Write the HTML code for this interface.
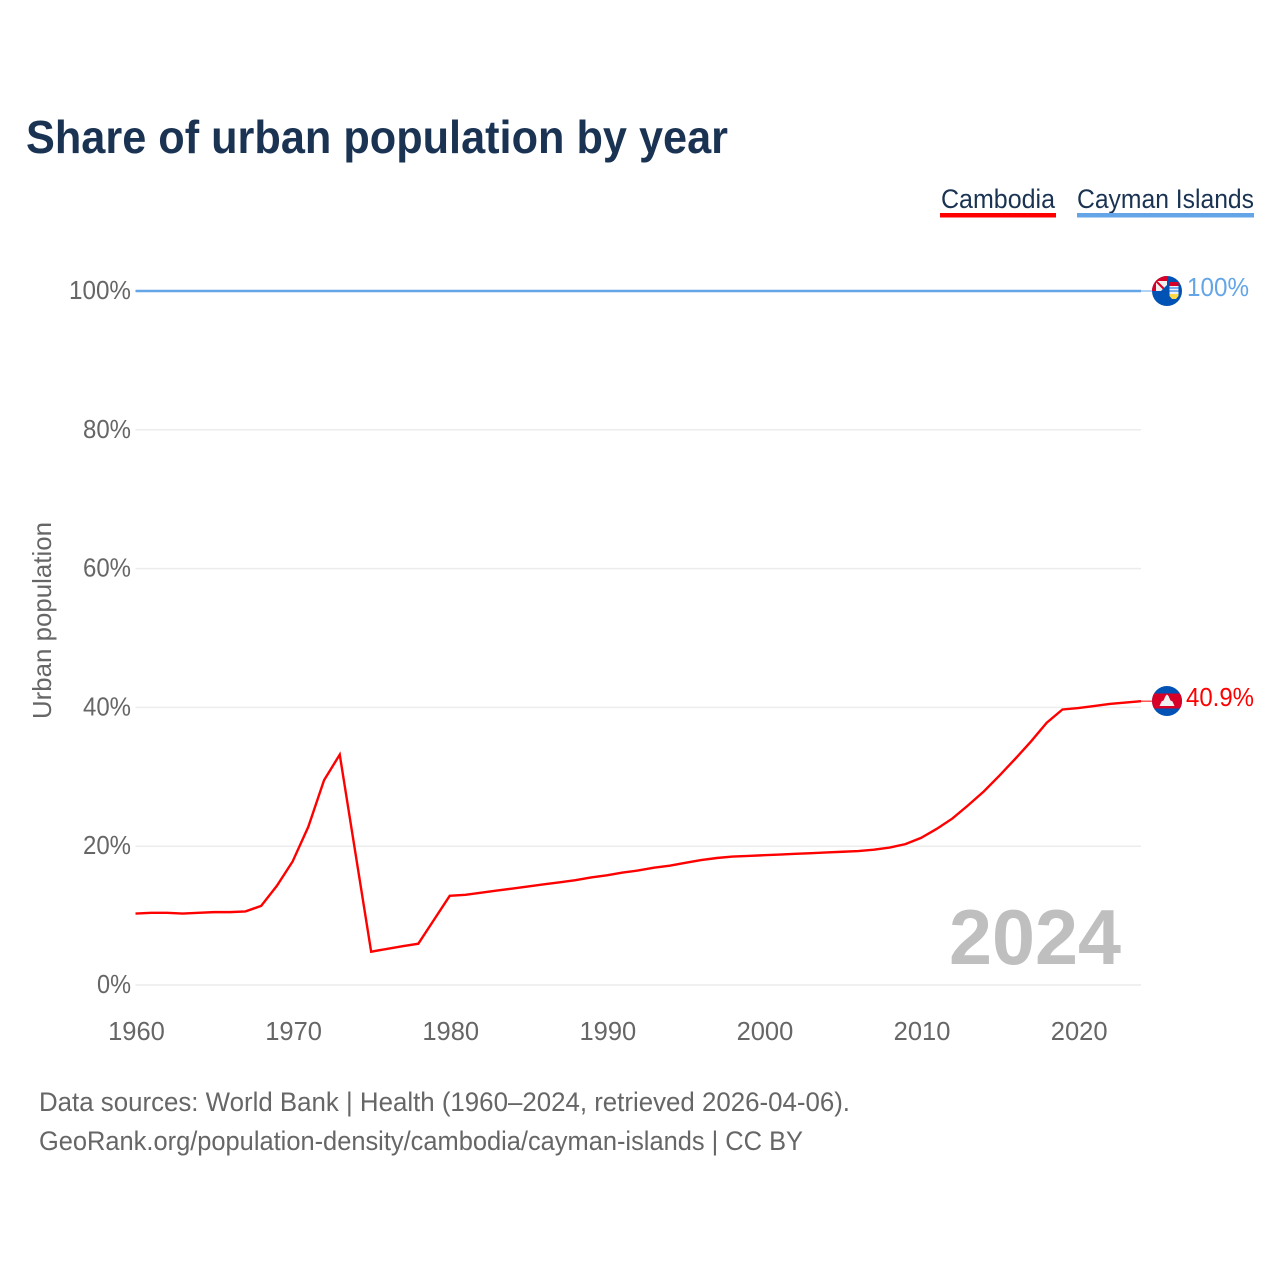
<!DOCTYPE html>
<html lang="en">
<head>
<meta charset="utf-8">
<title>Share of urban population by year</title>
<style>
html,body{margin:0;padding:0;background:#fff;width:1280px;height:1280px;overflow:hidden}
svg{display:block}
text{font-family:"Liberation Sans",sans-serif}
</style>
</head>
<body>
<svg id="chart" xmlns="http://www.w3.org/2000/svg" width="1280" height="1280" viewBox="0 0 1280 1280">
  <defs>
    <clipPath id="flag-clip-ky"><circle cx="1167" cy="291" r="15"/></clipPath>
    <clipPath id="flag-clip-kh"><circle cx="1167" cy="701" r="15"/></clipPath>
  </defs>
  <rect x="0" y="0" width="1280" height="1280" fill="#fff"/>
  <text x="26" y="153" font-size="46" font-weight="700" fill="#1a3353" textLength="702" lengthAdjust="spacingAndGlyphs">Share of urban population by year</text>

  <g>
    <g>
      <text x="941" y="208" font-size="27" fill="#1a3353" textLength="114" lengthAdjust="spacingAndGlyphs">Cambodia</text>
      <rect x="940" y="213" width="116" height="4.5" fill="#ff0000"/>
    </g>
    <g>
      <text x="1077" y="208" font-size="27" fill="#1a3353" textLength="177" lengthAdjust="spacingAndGlyphs">Cayman Islands</text>
      <rect x="1077" y="213" width="177" height="4.5" fill="#64a5e8"/>
    </g>
  </g>

  <g id="grid"></g>
  <g id="yticks"></g>
  <g id="xticks"></g>
  <text transform="translate(51 620.5) rotate(-90)" text-anchor="middle" font-size="26" fill="#666" textLength="197" lengthAdjust="spacingAndGlyphs">Urban population</text>

  <text id="year-label" x="949" y="964" font-size="78" font-weight="700" fill="#bfbfbf" textLength="172" lengthAdjust="spacingAndGlyphs">2024</text>

  <g id="series"></g>

  <g clip-path="url(#flag-clip-ky)">
    <rect x="1152" y="276" width="30" height="30" fill="#0052b4"/>
    <rect x="1152" y="276" width="15" height="15" fill="#d80027"/>
    <rect x="1156" y="281" width="11" height="10" fill="#f0f0f0"/>
    <path d="M1156 281 L1166 291" stroke="#d80027" stroke-width="2"/>
    <path d="M1161 291 L1167 291 L1167 285 Z" fill="#0052b4"/>
    <rect x="1169.5" y="282" width="9" height="4" fill="#d80027"/>
    <rect x="1169.5" y="286" width="9" height="8" fill="#f0f0f0"/>
    <path d="M1169.5 288 H1178.5 M1169.5 291 H1178.5" stroke="#338af3" stroke-width="1.2"/>
    <path d="M1169.5 294 H1178.5 V296 L1176 299 H1172 L1169.5 296 Z" fill="#ffda44"/>
  </g>
  <g clip-path="url(#flag-clip-kh)">
    <rect x="1152" y="686" width="30" height="30" fill="#0052b4"/>
    <rect x="1152" y="693.5" width="30" height="15" fill="#d80027"/>
    <path d="M1159.5 706 L1161.5 701.5 L1163.5 700.5 L1165.5 696 L1167 694.5 L1168.5 696 L1170.5 700.5 L1172.5 701.5 L1174.5 706 Z" fill="#f0f0f0"/>
  </g>
  <text id="label-ky" x="1187" y="296" font-size="26" fill="#64a5e8" textLength="62" lengthAdjust="spacingAndGlyphs">100%</text>
  <text id="label-kh" x="1186" y="706" font-size="26" fill="#ff0000" textLength="68" lengthAdjust="spacingAndGlyphs">40.9%</text>

  <text x="39" y="1111" font-size="27" fill="#666" textLength="811" lengthAdjust="spacingAndGlyphs">Data sources: World Bank | Health (1960–2024, retrieved 2026-04-06).</text>
  <text x="39" y="1150" font-size="27" fill="#666" textLength="764" lengthAdjust="spacingAndGlyphs">GeoRank.org/population-density/cambodia/cayman-islands | CC BY</text>
</svg>
<script>
const years = [1960,1961,1962,1963,1964,1965,1966,1967,1968,1969,1970,1971,1972,1973,1974,1975,1976,1977,1978,1979,1980,1981,1982,1983,1984,1985,1986,1987,1988,1989,1990,1991,1992,1993,1994,1995,1996,1997,1998,1999,2000,2001,2002,2003,2004,2005,2006,2007,2008,2009,2010,2011,2012,2013,2014,2015,2016,2017,2018,2019,2020,2021,2022,2023,2024];
const cambodia = [10.3,10.4,10.4,10.3,10.4,10.5,10.5,10.6,11.4,14.3,17.8,22.8,29.5,33.2,19.0,4.8,5.2,5.6,5.95,9.4,12.85,13.0,13.3,13.6,13.9,14.2,14.5,14.8,15.1,15.5,15.8,16.2,16.5,16.9,17.2,17.6,18.0,18.3,18.5,18.6,18.7,18.8,18.9,19.0,19.1,19.2,19.3,19.5,19.8,20.3,21.2,22.5,24.0,25.9,27.9,30.2,32.6,35.1,37.8,39.7,39.9,40.2,40.5,40.7,40.9];
const caymanIslands = [100,100,100,100,100,100,100,100,100,100,100,100,100,100,100,100,100,100,100,100,100,100,100,100,100,100,100,100,100,100,100,100,100,100,100,100,100,100,100,100,100,100,100,100,100,100,100,100,100,100,100,100,100,100,100,100,100,100,100,100,100,100,100,100,100];
const yTickValues = [0,20,40,60,80,100];
const xTickValues = [1960,1970,1980,1990,2000,2010,2020];

const SVG_NS = 'http://www.w3.org/2000/svg';
const xScale = function (year) { return 135.5 + (year - 1960) * (1141 - 135.5) / 64; };
const yScale = function (pct) { return 985 - pct * 6.94; };

const gridGroup = document.getElementById('grid');
const yTickGroup = document.getElementById('yticks');
const xTickGroup = document.getElementById('xticks');
const seriesGroup = document.getElementById('series');

yTickValues.forEach(function (v) {
  const line = document.createElementNS(SVG_NS, 'line');
  
  
  line.setAttribute('x1', xScale(1960));
  line.setAttribute('x2', xScale(2024));
  line.setAttribute('y1', yScale(v));
  line.setAttribute('y2', yScale(v));
  line.setAttribute('stroke', '#ececec');
  line.setAttribute('stroke-width', '1.5');
  gridGroup.appendChild(line);

  const label = document.createElementNS(SVG_NS, 'text');
  const str = v + '%';
  const labelWidth = 14 * String(v).length + 20;
  
  
  label.setAttribute('x', 131 - labelWidth);
  label.setAttribute('y', yScale(v) + 8);
  label.setAttribute('font-size', '25.5');
  label.setAttribute('fill', '#666');
  label.setAttribute('textLength', labelWidth);
  label.setAttribute('lengthAdjust', 'spacingAndGlyphs');
  label.textContent = str;
  yTickGroup.appendChild(label);
});

xTickValues.forEach(function (v) {
  const label = document.createElementNS(SVG_NS, 'text');
  
  
  label.setAttribute('x', xScale(v) + 1);
  label.setAttribute('y', 1040);
  label.setAttribute('text-anchor', 'middle');
  label.setAttribute('font-size', '25.5');
  label.setAttribute('fill', '#666');
  label.textContent = String(v);
  xTickGroup.appendChild(label);
});

function drawSeries(values, color, name) {
  const points = values.map(function (v, i) { return xScale(years[i]).toFixed(2) + ',' + yScale(v).toFixed(2); }).join(' ');
  const line = document.createElementNS(SVG_NS, 'polyline');
  
  
  line.setAttribute('points', points);
  line.setAttribute('fill', 'none');
  line.setAttribute('stroke', color);
  line.setAttribute('stroke-width', '2.4');
  line.setAttribute('stroke-linejoin', 'miter');
  seriesGroup.appendChild(line);

  const lastY = yScale(values[values.length - 1]);
  const connector = document.createElementNS(SVG_NS, 'line');
  
  
  connector.setAttribute('x1', xScale(2024));
  connector.setAttribute('x2', 1152);
  connector.setAttribute('y1', lastY);
  connector.setAttribute('y2', lastY);
  connector.setAttribute('stroke', color);
  connector.setAttribute('stroke-width', '1');
  seriesGroup.appendChild(connector);
}
drawSeries(caymanIslands, '#64a5e8', 'line-cayman-islands');
drawSeries(cambodia, '#ff0000', 'line-cambodia');
</script>
</body>
</html>
